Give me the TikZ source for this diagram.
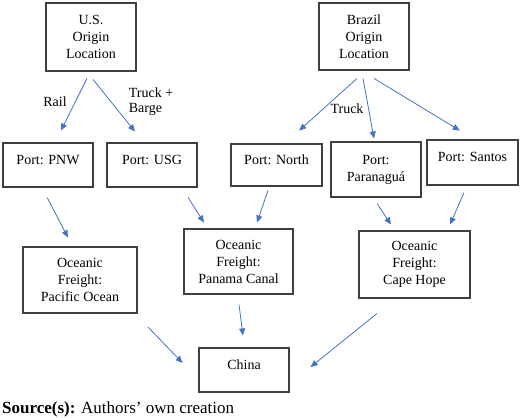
\documentclass[tikz,border=0pt]{standalone}
\usepackage{fontspec}
\setmainfont{Liberation Serif}
\usetikzlibrary{arrows.meta}
\definecolor{flowBlue}{HTML}{4472C4}
\definecolor{boxGray}{HTML}{404040}

\begin{document}
\begin{tikzpicture}[
        x=1pt, y=-1pt,
        boxNode/.style={rectangle, draw=boxGray, line width=1.1pt, align=center, inner sep=2pt,
            font=\rmfamily\fontsize{14}{17}\selectfont},
        singleNode/.style={boxNode, text height=10pt, text depth=12pt},
        flowArrow/.style={draw=flowBlue, line width=0.8pt, -{Triangle[length=7pt, width=6pt]}},
        pathLabel/.style={font=\rmfamily\fontsize{14}{15}\selectfont, align=left, inner sep=0pt}
    ]
        \useasboundingbox (0,0) rectangle (520,418);

        % Origins
        \node[boxNode, minimum width=90pt, minimum height=68pt] (usOrigin) at (91,37) {U.S.\\Origin\\Location};
        \node[boxNode, minimum width=90pt, minimum height=67pt] (brOrigin) at (364,36.5) {Brazil\\Origin\\Location};

        % Ports
        \node[singleNode, minimum width=90pt, minimum height=44pt] (pnw) at (48,165) {Port: PNW};
        \node[singleNode, minimum width=90pt, minimum height=44pt] (usg) at (152,165) {Port: USG};
        \node[singleNode, minimum width=91pt, minimum height=42pt] (north) at (276.5,165) {Port: North};
        \node[boxNode, minimum width=90pt, minimum height=55pt] (paranagua) at (376,169.5) {Port:\\Paranaguá};
        \node[singleNode, minimum width=91pt, minimum height=45pt] (santos) at (472.5,162.5) {Port: Santos};

        % Oceanic freight
        \node[boxNode, minimum width=114pt, minimum height=66pt] (pacific) at (80,280) {Oceanic\\Freight:\\Pacific Ocean};
        \node[boxNode, minimum width=109pt, minimum height=65pt] (panama) at (238.5,261.5) {Oceanic\\Freight:\\Panama Canal};
        \node[boxNode, minimum width=111pt, minimum height=67pt] (cape) at (414.5,264.5) {Oceanic\\Freight:\\Cape Hope};

        % Destination
        \node[singleNode, minimum width=90pt, minimum height=44pt] (china) at (244,370) {China};

        % Labels for transport modes
        \node[pathLabel] (railLabel) at (55,102) {Rail};
        \node[pathLabel] (bargeLabel) at (151,102) {Truck +\\Barge};
        \node[pathLabel] (truckLabel) at (347,109) {Truck};

        % Source line
        \node[anchor=base west, inner sep=0pt, font=\rmfamily\fontsize{17}{20}\selectfont] (source) at (2,413)
            {\textbf{Source(s):} Authors’ own creation};

        % Edges
        \draw[flowArrow, shorten <=7.8pt, shorten >=13.4pt] ([xshift=-0.6pt]usOrigin.south) -- ([xshift=7pt]pnw.north);
        \draw[flowArrow, shorten <=10.2pt, shorten >=14pt] ([xshift=-4.3pt]usOrigin.south) -- ([xshift=-8.3pt]usg.north);
        \draw[flowArrow, shorten <=11.9pt, shorten >=19.3pt] ([xshift=1.8pt]brOrigin.south) -- ([xshift=8.3pt]north.north);
        \draw[flowArrow, shorten <=8.1pt, shorten >=3pt] ([xshift=-2.4pt]brOrigin.south) -- ([xshift=-1.5pt]paranagua.north);
        \draw[flowArrow, shorten <=15.2pt, shorten >=17.2pt] ([xshift=-3pt]brOrigin.south) -- ([xshift=2pt]santos.north);
        \draw[flowArrow, shorten <=11.2pt, shorten >=10.1pt] ([xshift=-6pt]pnw.south) -- ([xshift=-7.4pt]pacific.north);
        \draw[flowArrow, shorten <=11.7pt, shorten >=7pt] ([xshift=29.8pt]usg.south) -- ([xshift=-30.8pt]panama.north);
        \draw[flowArrow, shorten <=4.2pt, shorten >=6.3pt] ([xshift=-7.2pt]north.south) -- ([xshift=16.5pt]panama.north);
        \draw[flowArrow, shorten <=7.1pt, shorten >=7.1pt] ([xshift=-2.8pt]paranagua.south) -- ([xshift=-19.7pt]cape.north);
        \draw[flowArrow, shorten <=7.6pt, shorten >=6.5pt] ([xshift=-5.5pt]santos.south) -- ([xshift=33pt]cape.north);
        \draw[flowArrow, shorten <=18.7pt, shorten >=22.9pt] ([xshift=-2.6pt]pacific.south east) -- ([yshift=-9.4pt]china.west);
        \draw[flowArrow, shorten <=10.1pt, shorten >=12.1pt] ([xshift=-0.75pt]panama.south) -- ([xshift=0.5pt]china.north);
        \draw[flowArrow, shorten <=23.9pt, shorten >=27pt] ([xshift=-18.9pt]cape.south) -- ([yshift=-13.9pt]china.east);
    \end{tikzpicture}
\end{document}
